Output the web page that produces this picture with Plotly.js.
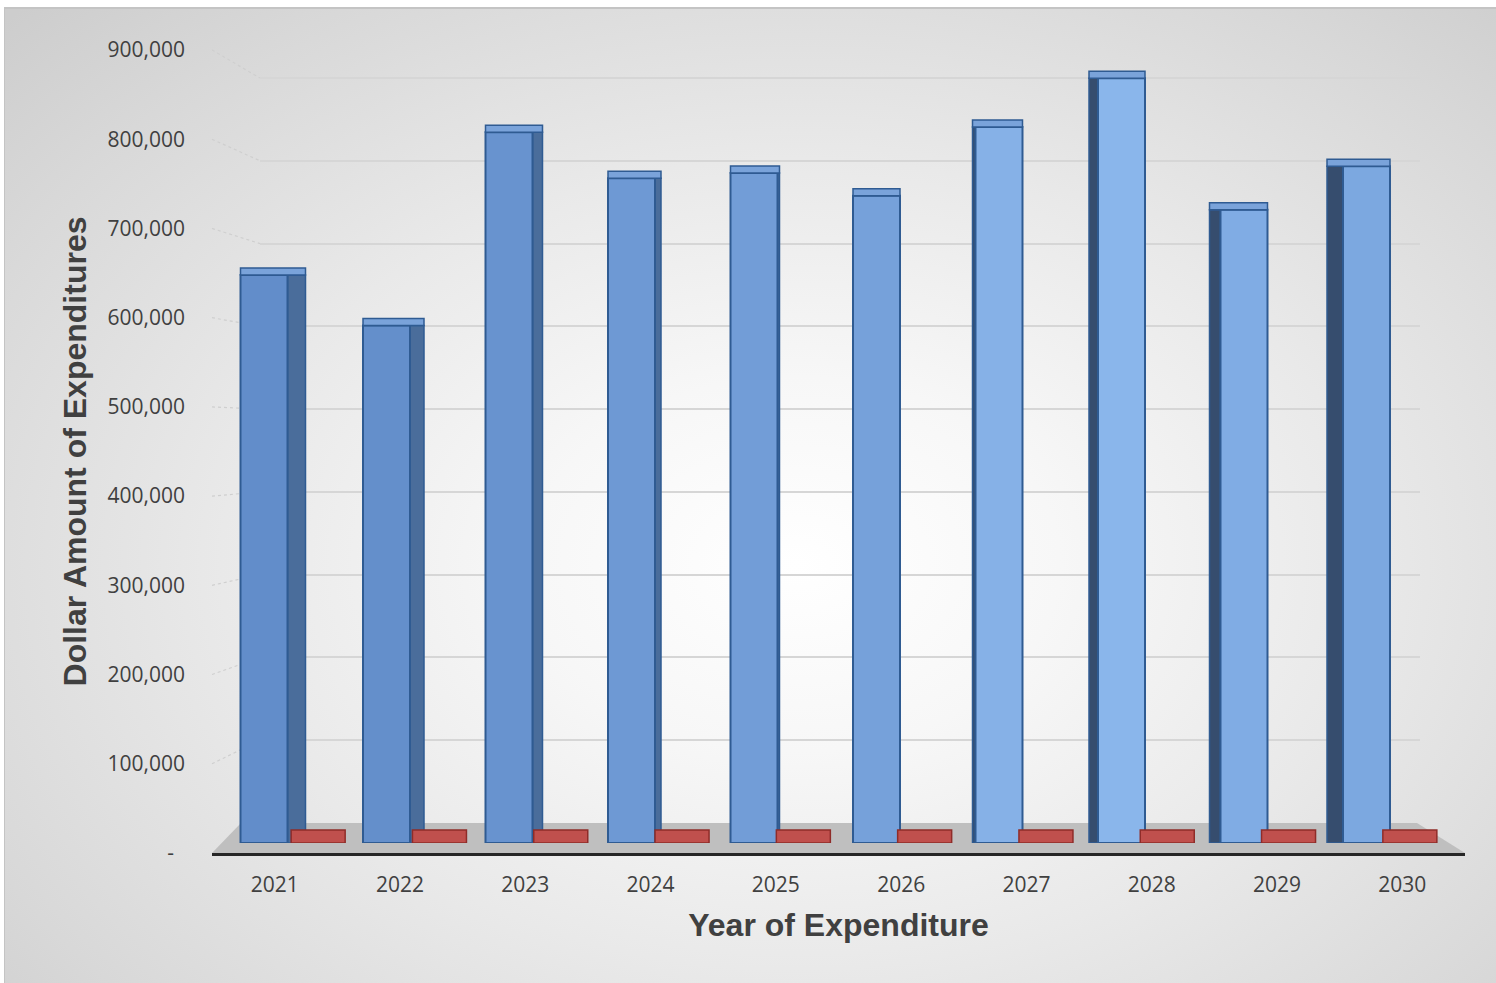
<!DOCTYPE html>
<html>
<head>
<meta charset="utf-8">
<script src="https://cdn.plot.ly/plotly-3.0.1.min.js"></script>
<style>
  html, body { margin: 0; padding: 0; background: #ffffff; overflow: hidden; }
  #bg {
    position: absolute; left: 4px; top: 7px; width: 1492px; height: 976px;
    border-top: 2px solid #c4c4c4; border-left: 1px solid #c4c4c4; box-sizing: border-box;
    background: radial-gradient(ellipse 74% 80% at 53% 57%, #ffffff 0%, #f7f7f7 24%, #e9e9e9 52%, #d8d8d8 82%, #cdcdcd 100%);
  }
  #chart { position: absolute; left: 0; top: 0; width: 1496px; height: 983px; }
</style>
</head>
<body>
<div id="bg"></div>
<div id="chart"></div>
<script>
// ---- data ----
const years = ['2021', '2022', '2023', '2024', '2025', '2026', '2027', '2028', '2029', '2030'];
const expenditures = [652000, 594000, 816000, 763000, 769000, 743000, 822000, 878000, 727000, 777000];
const otherSeries = [0, 0, 0, 0, 0, 0, 0, 0, 0, 0];
const yTicks = [0, 100000, 200000, 300000, 400000, 500000, 600000, 700000, 800000, 900000];
const xTitle = 'Year of Expenditure';
const yTitle = 'Dollar Amount of Expenditures';

// ---- styles / geometry (pixels of the 1496x983 canvas) ----
const W = 1496, H = 983;
const px = x => x / W;
const py = y => 1 - y / H;
const YMAX = 900000;
const plane = 784;                                         // px of the bar-plane value axis
const frontColors = ['#628dca', '#648fcb', '#6893cf', '#6e99d4', '#729dd7', '#76a1da', '#86b1e7', '#8ab6eb', '#80ace4', '#7ca8e0'];
const sidePx = [18, 14, 10, 6, 2, 0, 3, 9, 11, 16];     // visible side-face width, px
const catPx = 122.5;                                      // bar-plane category spacing
const bw = 47 / catPx;                                    // bar width in category units
const outline = '#2f5b92';

const sideW = sidePx.map(s => Math.max(s, 0.01) / catPx);
const sideOffset = sideW.map((w, i) => i < 5 ? bw / 2 : -bw / 2 - w);
const sideColors = years.map((_, i) => i < 5 ? '#4a6d9b' : '#364d6e');
const topH = 7 * YMAX / plane;                             // top-face depth in value units
const topOffset = sideW.map((w, i) => i < 5 ? -bw / 2 : -bw / 2 - w);
const topWidth = sideW.map(w => bw + w);
const topColors = frontColors.map(() => '#7aa3da');
const tileH = 13 * YMAX / plane;                           // flat floor tile thickness for zero values
const tileW = 54 / 121.3;
const backPad = 1.002;                                     // lets the top back-wall grid line show

const traces = [
  // helper so the front axis shows the categories
  { type: 'scatter', x: years, y: otherSeries, xaxis: 'x', yaxis: 'y', mode: 'markers',
    marker: { opacity: 0 }, hoverinfo: 'skip', showlegend: false },
  // helper so the back-wall grid axis exists
  { type: 'scatter', x: years, y: expenditures, xaxis: 'x2', yaxis: 'y2', mode: 'markers',
    marker: { opacity: 0 }, hoverinfo: 'skip', showlegend: false },
  // second series (zero values) drawn as flat floor tiles resting on their value
  { type: 'bar', name: 'Other', x: years, y: otherSeries.map(() => tileH), base: otherSeries,
    xaxis: 'x4', yaxis: 'y3', offset: -tileW / 2, width: tileW,
    marker: { color: '#c0504d', line: { color: '#8f2c29', width: 1.5 } },
    hoverinfo: 'skip', showlegend: false },
  // side faces
  { type: 'bar', x: years, y: expenditures, xaxis: 'x3', yaxis: 'y3',
    offset: sideOffset, width: sideW,
    marker: { color: sideColors, line: { color: outline, width: 1.5 } },
    hoverinfo: 'skip', showlegend: false },
  // front faces (main series)
  { type: 'bar', name: 'Expenditures', x: years, y: expenditures, xaxis: 'x3', yaxis: 'y3',
    offset: -bw / 2, width: bw,
    marker: { color: frontColors, line: { color: outline, width: 2 } },
    showlegend: false },
  // top faces
  { type: 'bar', x: years, y: years.map(() => topH), base: expenditures, xaxis: 'x3', yaxis: 'y3',
    offset: topOffset, width: topWidth,
    marker: { color: topColors, line: { color: outline, width: 1.5 } },
    hoverinfo: 'skip', showlegend: false }
];

// floor and side-wall grid lines
const shapes = [
  { type: 'path', xref: 'paper', yref: 'paper', layer: 'below',
    path: `M ${px(212)},${py(853)} L ${px(241)},${py(823)} L ${px(1417)},${py(823)} L ${px(1465)},${py(853)} Z`,
    fillcolor: '#bfbfbf', line: { width: 0 } }
];
yTicks.forEach(v => {
  if (v === 0) return;
  const yF = 853 - v / YMAX * 803;
  const yB = 823 - v / YMAX * 745;
  shapes.push({ type: 'line', xref: 'paper', yref: 'paper', layer: 'below',
    x0: px(212), y0: py(yF), x1: px(260), y1: py(yB),
    line: { color: '#cfcfcf', width: 1.2, dash: 'dot' } });
});

const tickFont = { family: 'Open Sans, sans-serif', size: 21, color: '#404040' };
const titleFont = { family: 'Liberation Sans, Arial, sans-serif', size: 32, color: '#404040', weight: 'bold' };

const layout = {
  width: W, height: H,
  margin: { l: 0, r: 0, t: 0, b: 0 },
  paper_bgcolor: 'rgba(0,0,0,0)', plot_bgcolor: 'rgba(0,0,0,0)',
  barmode: 'overlay',
  showlegend: false,
  hovermode: 'closest',
  // front plane: labels and axis line
  xaxis: {
    domain: [px(212), px(1465)], anchor: 'y', type: 'category',
    categoryorder: 'array', categoryarray: years, range: [-0.5, 9.5],
    showline: true, linecolor: '#262626', linewidth: 3,
    ticks: '', ticklabelstandoff: 11, tickfont: tickFont,
    showgrid: false, zeroline: false, fixedrange: true,
    title: { text: '<b>' + xTitle + '</b>', font: titleFont, standoff: 17 }
  },
  yaxis: {
    domain: [py(853), py(50)], anchor: 'x', range: [0, YMAX],
    tickvals: yTicks,
    ticktext: yTicks.map(v => v === 0 ? '-\u00a0\u00a0' : v.toLocaleString('en-US')),
    ticks: '', ticklabelstandoff: 26, tickfont: tickFont,
    showline: false, showgrid: false, zeroline: false, fixedrange: true,
    title: { text: '<b>' + yTitle + '</b>', font: titleFont, standoff: 11 }
  },
  // back wall grid
  xaxis2: { domain: [px(260), px(1420)], anchor: 'y2', type: 'category', categoryarray: years,
    range: [-0.5, 9.5], visible: false, fixedrange: true },
  yaxis2: { domain: [py(823), py(823 - 745 * backPad)], anchor: 'x2', range: [0, YMAX * backPad], dtick: 100000,
    showgrid: true, gridcolor: '#d6d6d6', gridwidth: 2, zeroline: false,
    showticklabels: false, ticks: '', showline: false, fixedrange: true },
  // bar plane
  xaxis3: { domain: [px(202.75), px(202.75 + catPx * 10)], anchor: 'y3', type: 'category',
    categoryorder: 'array', categoryarray: years, range: [-0.5, 9.5], visible: false, fixedrange: true },
  yaxis3: { domain: [py(843), py(843 - plane)], anchor: 'x3', range: [0, YMAX], visible: false, fixedrange: true },
  // floor tiles of the second series
  xaxis4: { domain: [px(257.5), px(257.5 + 121.3 * 10)], anchor: 'y3', type: 'category',
    categoryorder: 'array', categoryarray: years, range: [-0.5, 9.5], visible: false, fixedrange: true },
  shapes: shapes
};

Plotly.newPlot('chart', traces, layout, { displayModeBar: false, staticPlot: true });
</script>
</body>
</html>
